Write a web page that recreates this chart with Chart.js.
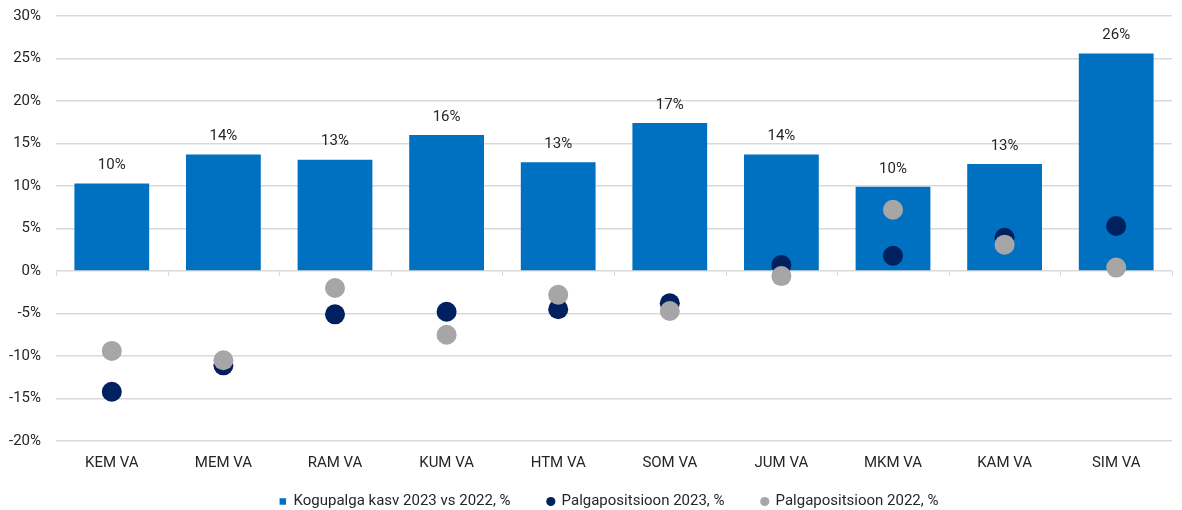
<!DOCTYPE html>
<html>
  <head>
    <meta charset="UTF-8">
    <title>Kogupalga kasv ja palgapositsioon</title>
    <script src="https://cdn.jsdelivr.net/npm/chart.js@4"></script>
    <style>
      html, body { margin: 0; padding: 0; background: #fff; }
      #wrap { width: 1182px; height: 510px; }
    </style>
  </head>
  <body>
    <div id="wrap"><canvas id="chart"></canvas></div>

    <script>
      const categories = ['KEM VA', 'MEM VA', 'RAM VA', 'KUM VA', 'HTM VA', 'SOM VA', 'JUM VA', 'MKM VA', 'KAM VA', 'SIM VA'];
      const growth = [10.3, 13.7, 13.1, 16.0, 12.8, 17.4, 13.7, 9.9, 12.6, 25.6];
      const position2023 = [-14.2, -11.1, -5.1, -4.8, -4.5, -3.8, 0.7, 1.8, 3.9, 5.3];
      const position2022 = [-9.4, -10.5, -2.0, -7.5, -2.8, -4.7, -0.6, 7.2, 3.1, 0.4];
      const yTicks = [-20, -15, -10, -5, 0, 5, 10, 15, 20, 25, 30];

      const FONT = "'Roboto', sans-serif";
      Chart.defaults.font.family = FONT;
      Chart.defaults.font.size = 15;
      Chart.defaults.color = '#262626';

      // value labels above the bars
      const barLabels = {
        id: 'barLabels',
        afterDatasetsDraw(chart) {
          const ctx = chart.ctx;
          const meta = chart.getDatasetMeta(0);
          ctx.save();
          ctx.font = '15px ' + FONT;
          ctx.fillStyle = '#262626';
          ctx.textAlign = 'center';
          ctx.textBaseline = 'middle';
          meta.data.forEach((bar, i) => {
            ctx.fillText(Math.round(growth[i]) + '%', bar.x, bar.y - 18);
          });
          ctx.restore();
        }
      };

      // small tick marks under the 0% line between categories
      const zeroTicks = {
        id: 'zeroTicks',
        beforeDatasetsDraw(chart) {
          const x = chart.scales.x, y = chart.scales.y;
          const y0 = y.getPixelForValue(0);
          const half = (x.getPixelForValue(1) - x.getPixelForValue(0)) / 2;
          const ctx = chart.ctx;
          ctx.save();
          ctx.strokeStyle = '#D9D9D9';
          ctx.lineWidth = 1;
          ctx.beginPath();
          for (let i = 0; i <= categories.length; i++) {
            const px = Math.round(x.getPixelForValue(i) - half) + 0.5;
            ctx.moveTo(px, y0);
            ctx.lineTo(px, y0 + 5);
          }
          ctx.stroke();
          ctx.restore();
        }
      };

      // legend: wide gaps between items but a short box, sitting close to the axis labels
      const legendFit = {
        id: 'legendFit',
        afterInit(chart) {
          const lg = chart.legend;
          if (!lg) return;
          const fit = lg.fit;
          lg.fit = function () {
            fit.call(this);
            this.height = 25;
          };
        },
        afterLayout(chart) {
          const lg = chart.legend;
          if (!lg) return;
          lg.top -= 28;
          lg.bottom = lg.top + 90;
          lg.left += 22;
          lg.right += 22;
        }
      };

      new Chart(document.getElementById('chart'), {
        type: 'bar',
        data: {
          labels: categories,
          datasets: [
            {
              label: 'Kogupalga kasv 2023 vs 2022, %',
              data: growth,
              backgroundColor: '#0070C0',
              pointStyle: 'rect',
              categoryPercentage: 1.0,
              barPercentage: 0.67,
              order: 3
            },
            {
              type: 'line',
              label: 'Palgapositsioon 2023, %',
              data: position2023,
              showLine: false,
              pointRadius: 10,
              pointHoverRadius: 10,
              pointStyle: 'circle',
              backgroundColor: '#002060',
              borderColor: '#002060',
              borderWidth: 0,
              order: 2
            },
            {
              type: 'line',
              label: 'Palgapositsioon 2022, %',
              data: position2022,
              showLine: false,
              pointRadius: 10,
              pointHoverRadius: 10,
              pointStyle: 'circle',
              backgroundColor: '#A6A6A6',
              borderColor: '#A6A6A6',
              borderWidth: 0,
              order: 1
            }
          ]
        },
        options: {
          responsive: true,
          maintainAspectRatio: false,
          animation: false,
          layout: { padding: { top: 0, right: 2, left: -6, bottom: 0 } },
          plugins: {
            tooltip: { enabled: false },
            legend: {
              position: 'bottom',
              labels: {
                usePointStyle: true,
                boxWidth: 6.5,
                boxHeight: 6.5,
                padding: 37,
                font: { size: 15 },
                color: '#262626',
                sort: (a, b) => a.datasetIndex - b.datasetIndex
              }
            }
          },
          scales: {
            x: {
              grid: { display: false, drawTicks: false },
              border: { display: false },
              ticks: { color: '#262626', padding: 13, font: { size: 15 } }
            },
            y: {
              min: -20,
              max: 30,
              afterBuildTicks: (axis) => { axis.ticks = yTicks.map(v => ({ value: v })); },
              afterFit: (axis) => { axis.paddingTop = 16; },
              grid: { color: '#D9D9D9', lineWidth: 1.5, drawTicks: false },
              border: { display: false },
              ticks: {
                color: '#262626',
                padding: 15,
                font: { size: 15 },
                callback: (v) => v + '%'
              }
            }
          }
        },
        plugins: [barLabels, zeroTicks, legendFit]
      });
    </script>
  </body>
</html>
